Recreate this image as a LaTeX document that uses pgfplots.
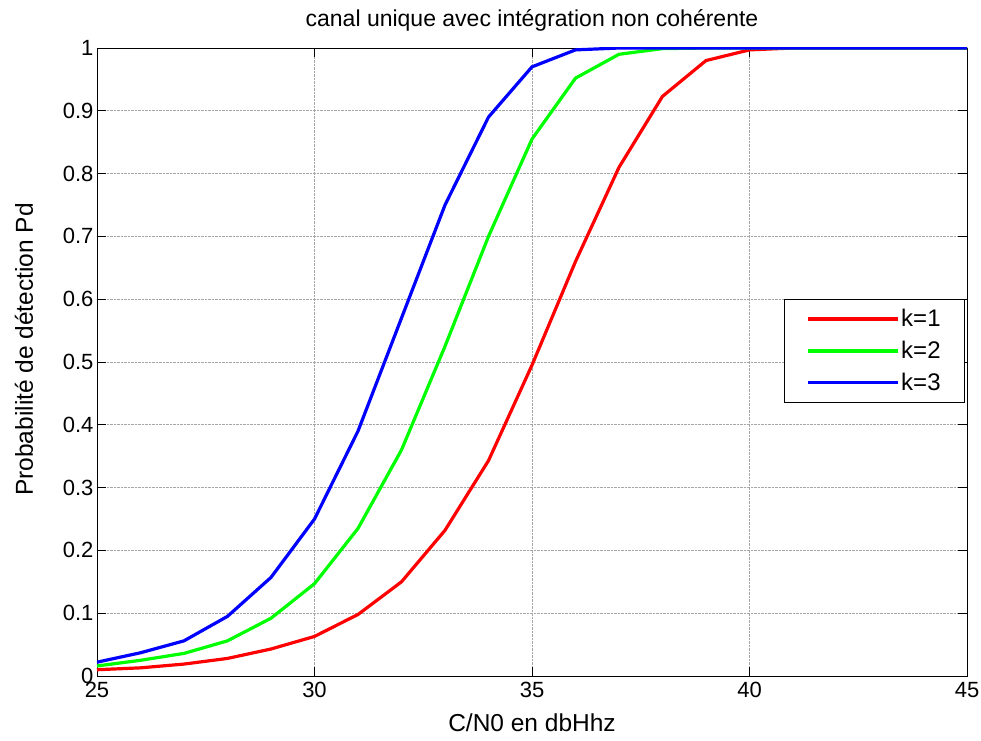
\documentclass[border=0pt]{standalone}
\usepackage{fontspec}
\setmainfont{Liberation Sans}
\usepackage{pgfplots}
\pgfplotsset{compat=1.18}
\begin{document}
\begin{tikzpicture}
\path[use as bounding box] (-97pt,-64pt) rectangle (884pt,676pt);
\begin{axis}[
  scale only axis,
  width=870pt, height=628pt,
  xmin=25, xmax=45, ymin=0, ymax=1,
  xtick={25,30,...,45},
  ytick={0,0.1,...,1},
  yticklabel style={/pgf/number format/fixed, /pgf/number format/precision=1},
  /pgf/number format/assume math mode=true,
  xticklabel style={yshift=-3pt},
  tick align=inside,
  major tick length=9pt,
  tick style={black, line width=0.8pt},
  axis line style={black, line width=0.8pt},
  grid=major,
  grid style={densely dotted, gray!70, line width=0.7pt},
  font=\fontsize{22}{26}\selectfont,
  title={canal unique avec intégration non cohérente},
  title style={at={(axis description cs:0.5,1.034)}, anchor=center,
    font=\fontsize{23}{27}\selectfont},
  xlabel={C/N0 en dbHhz},
  ylabel={Probabilité de détection Pd},
  label style={font=\fontsize{24.5}{29}\selectfont},
  xlabel style={at={(axis description cs:0.5,-0.074)}, anchor=center},
  ylabel style={at={(axis description cs:-0.084,0.52)}, anchor=center},
  legend style={at={(rel axis cs:0.9977,0.600)}, anchor=north east,
    draw=black, line width=0.8pt, font=\fontsize{24}{28}\selectfont,
    row sep=9pt, inner xsep=22pt, inner ysep=8pt},
  legend cell align=left,
  legend image code/.code={\draw[#1, line width=3.2pt] (0pt,0pt) -- (90pt,0pt);},
]
\addplot[red, line width=3.2pt] coordinates {
(25,0.010) (26,0.013) (27,0.019) (28,0.028) (29,0.043) (30,0.063)
(31,0.098) (32,0.150) (33,0.232) (34,0.343) (35,0.495) (36,0.660)
(37,0.810) (38,0.923) (39,0.980) (40,0.997) (41,1.0) (42,1.0)
(43,1.0) (44,1.0) (45,1.0)};
\addplot[green, line width=3.2pt] coordinates {
(25,0.016) (26,0.025) (27,0.036) (28,0.056) (29,0.092) (30,0.147)
(31,0.235) (32,0.360) (33,0.525) (34,0.700) (35,0.855) (36,0.952)
(37,0.990) (38,0.999) (39,1.0) (40,1.0) (41,1.0) (42,1.0)
(43,1.0) (44,1.0) (45,1.0)};
\addplot[blue, line width=3.2pt] coordinates {
(25,0.022) (26,0.037) (27,0.056) (28,0.095) (29,0.157) (30,0.250)
(31,0.390) (32,0.570) (33,0.750) (34,0.890) (35,0.970) (36,0.997)
(37,1.0) (38,1.0) (39,1.0) (40,1.0) (41,1.0) (42,1.0)
(43,1.0) (44,1.0) (45,1.0)};
\legend{k=1, k=2, k=3}
\end{axis}
\end{tikzpicture}
\end{document}
